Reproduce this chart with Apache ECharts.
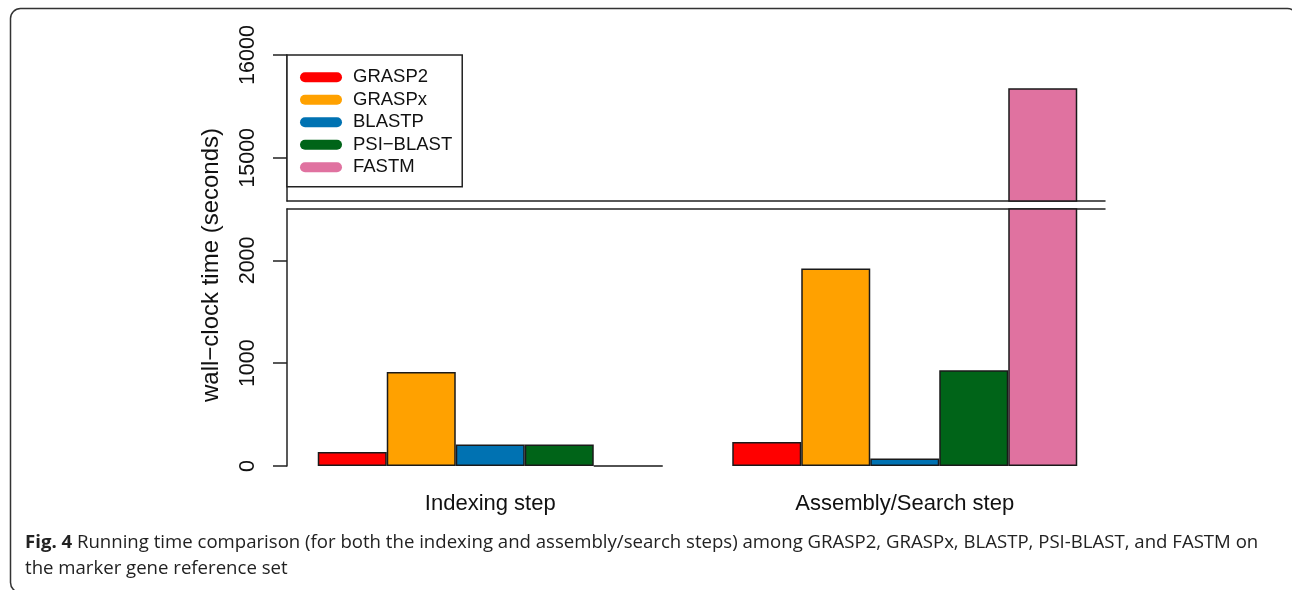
<!DOCTYPE html>
<html>
<head>
<meta charset="utf-8">
<script src="https://cdn.jsdelivr.net/npm/echarts@6/dist/echarts.min.js"></script>
<style>
  html, body { margin: 0; padding: 0; background: #fff; }
  #chart { width: 1292px; height: 590px; }
</style>
</head>
<body>
<div id="chart"></div>
<script>
// data (seconds)
const categories = ["Indexing step", "Assembly/Search step"];
const tools = ["GRASP2", "GRASPx", "BLASTP", "PSI\u2212BLAST", "FASTM"];
const grasp2 = [136, 234];
const graspx = [915, 1922];
const blastp = [208, 72];
const psiblast = [210, 932];
const fastm = [0, 15677];
const lowerTicks = [0, 1000, 2000];
const upperTicks = [15000, 16000];

const colors = ["#ff0000", "#ffa100", "#0072b2", "#006418", "#e072a0"];
const values = [grasp2, graspx, blastp, psiblast, fastm];

const chart = echarts.init(document.getElementById("chart"));
const font = "Liberation Sans, Arial, sans-serif";

// frame grids carry the visible axes, data grids carry the bars
const upperBox = { top: 55, height: 146 };
const lowerBox = { top: 209, height: 257 };

function yAxisDef(gridIndex, min, max, ticks, show) {
  return {
    type: "value",
    gridIndex: gridIndex,
    min: min,
    max: max,
    show: show,
    splitLine: { show: false },
    axisLine: { show: true, lineStyle: { color: "#222", width: 1.5 } },
    axisTick: { show: true, length: 14, customValues: ticks, lineStyle: { color: "#222", width: 1.5 } },
    axisLabel: {
      show: true,
      customValues: ticks,
      rotate: 90,
      margin: 28,
      fontSize: 21.5,
      fontFamily: font,
      color: "#111",
      formatter: function (v) { return String(v); }
    }
  };
}

const series = [];
tools.forEach(function (name, i) {
  [2, 3].forEach(function (g) {
    series.push({
      name: name,
      type: "bar",
      xAxisIndex: g,
      yAxisIndex: g,
      data: values[i],
      barWidth: 69,
      barGap: "0%",
      clip: true,
      itemStyle: { color: colors[i], borderColor: "#1a1a1a", borderWidth: 1.5 },
      emphasis: { disabled: true },
      animation: false
    });
  });
});

chart.setOption({
  animation: false,
  grid: [
    { left: 287, width: 818, top: upperBox.top, height: upperBox.height },
    { left: 287, width: 818, top: lowerBox.top, height: lowerBox.height },
    { left: 283, width: 829, top: upperBox.top, height: upperBox.height },
    { left: 283, width: 829, top: lowerBox.top, height: lowerBox.height }
  ],
  xAxis: [
    { type: "category", gridIndex: 0, data: categories, position: "bottom",
      axisLine: { show: true, onZero: false, lineStyle: { color: "#222", width: 1.5 } },
      axisTick: { show: false }, axisLabel: { show: false } },
    { type: "category", gridIndex: 1, data: categories, position: "top",
      axisLine: { show: true, onZero: false, lineStyle: { color: "#222", width: 1.5 } },
      axisTick: { show: false }, axisLabel: { show: false } },
    { type: "category", gridIndex: 2, data: categories,
      axisLine: { show: false, onZero: false }, axisTick: { show: false }, axisLabel: { show: false } },
    { type: "category", gridIndex: 3, data: categories,
      axisLine: { show: false, onZero: false }, axisTick: { show: false },
      axisLabel: { show: true, margin: 27, fontSize: 22, fontFamily: font, color: "#111" } }
  ],
  yAxis: [
    yAxisDef(0, 14580, 16000, upperTicks, true),
    yAxisDef(1, 0, 2500, lowerTicks, true),
    yAxisDef(2, 14580, 16000, upperTicks, false),
    yAxisDef(3, 0, 2500, lowerTicks, false)
  ],
  legend: {
    data: tools,
    orient: "vertical",
    left: 287,
    top: 55,
    padding: [12.75, 10, 10, 13],
    itemGap: 3.5,
    itemWidth: 42,
    itemHeight: 11,
    icon: "path://M5,0 L37,0 A5,5 0 0 1 37,10 L5,10 A5,5 0 0 1 5,0 Z",
    itemStyle: { borderWidth: 0 },
    borderColor: "#222",
    borderWidth: 1.5,
    backgroundColor: "#fff",
    selectedMode: false,
    textStyle: { fontSize: 18.5, fontFamily: font, color: "#111", padding: [0, 0, 0, 6] }
  },
  graphic: [
    {
      type: "rect",
      shape: { x: 10.5, y: 8.5, width: 1287, height: 584, r: 10 },
      style: { fill: "none", stroke: "#333", lineWidth: 1.5 },
      silent: true
    },
    {
      type: "text",
      x: 211,
      y: 265,
      rotation: Math.PI / 2,
      style: {
        text: "wall\u2212clock time (seconds)",
        font: "24px " + font,
        fill: "#111",
        textAlign: "center",
        textVerticalAlign: "middle"
      }
    },
    {
      type: "text",
      x: 25,
      y: 543,
      style: {
        text: "{b|Fig. 4} Running time comparison (for both the indexing and assembly/search steps) among GRASP2, GRASPx, BLASTP, PSI-BLAST, and FASTM on",
        fontFamily: "Open Sans",
        fontSize: 18.6,
        fill: "#222",
        textVerticalAlign: "middle",
        rich: { b: { fontFamily: "Open Sans", fontSize: 18.6, fontWeight: "bold", fill: "#222" } }
      }
    },
    {
      type: "text",
      x: 25,
      y: 569,
      style: {
        text: "the marker gene reference set",
        fontFamily: "Open Sans",
        fontSize: 18.6,
        fill: "#222",
        textVerticalAlign: "middle"
      }
    }
  ],
  series: series
});
</script>
</body>
</html>
